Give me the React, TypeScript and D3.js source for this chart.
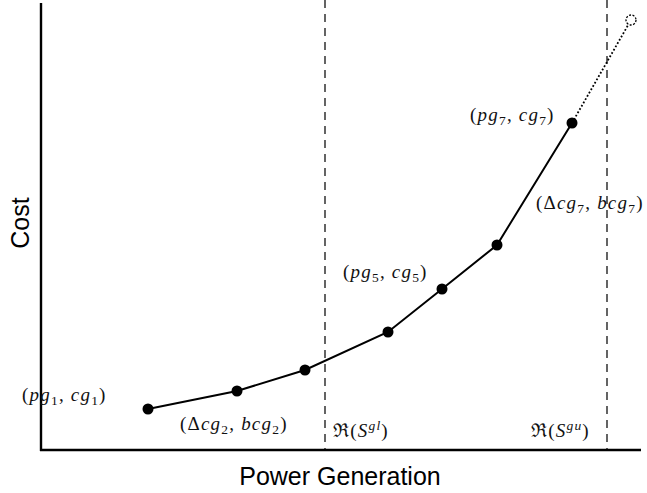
import React from 'react';
import * as d3 from 'd3';

// piecewise linear cost curve (arbitrary units)
const power = [107, 196, 264, 347, 401, 456, 531];
const cost = [41, 59, 80, 118, 161, 205, 327];
const extPower = 590;
const extCost = 430;
const lowerBound = 284;
const upperBound = 566;

type Seg = { t: string; it?: boolean; sub?: boolean; sup?: boolean };

const W = 647, H = 493;
const x = d3.scaleLinear().domain([0, 600]).range([41, 641]);
const y = d3.scaleLinear().domain([0, 450]).range([450, 0]);

const MathText: React.FC<{ x: number; y: number; segs: Seg[] }> = ({ x, y, segs }) => (
  <text x={x} y={y} fontFamily="'Liberation Serif', 'DejaVu Serif', serif" fontSize={19} letterSpacing={1.2} fill="#111">
    {segs.map((s, i) => (
      <tspan
        key={i}
        fontStyle={s.it ? 'italic' : 'normal'}
        fontSize={s.sub || s.sup ? 13.5 : 19}
        baselineShift={s.sub ? '-4' : s.sup ? '7' : undefined}
      >
        {s.t}
      </tspan>
    ))}
  </text>
);

const pair = (a: string, b: string, k: string, delta = false): Seg[] => [
  { t: '(' },
  ...(delta ? [{ t: 'Δ' }] : []),
  { t: a, it: true },
  { t: k, sub: true },
  { t: ', ' },
  { t: b, it: true },
  { t: k, sub: true },
  { t: ')' },
];

const App: React.FC = () => {
  const pts: [number, number][] = power.map((p, i) => [x(p), y(cost[i])]);
  const line = d3.line<[number, number]>();
  const last = pts[pts.length - 1];

  return (
    <svg width={W} height={H} style={{ position: 'absolute', left: 0, top: 0, background: '#fff' }}>
      {/* bounds */}
      {[lowerBound, upperBound].map((b) => (
        <line key={b} x1={x(b)} x2={x(b)} y1={0} y2={y(0)} stroke="#111" strokeWidth={1.3} strokeDasharray="8 6" />
      ))}
      {/* axes */}
      <line x1={x(0)} x2={x(0)} y1={3} y2={y(0) + 1} stroke="#000" strokeWidth={2.4} />
      <line x1={x(0) - 1} x2={x(600)} y1={y(0)} y2={y(0)} stroke="#000" strokeWidth={2.4} />

      {/* extension */}
      <line x1={last[0]} y1={last[1]} x2={x(extPower)} y2={y(extCost)} stroke="#000" strokeWidth={1.8} strokeDasharray="1.8 2" />
      <circle cx={x(extPower)} cy={y(extCost)} r={5} fill="#fff" stroke="#000" strokeWidth={1.3} strokeDasharray="2 1.5" />

      <path d={line(pts) || ''} fill="none" stroke="#000" strokeWidth={2} />
      {pts.map((p, i) => (
        <circle key={i} cx={p[0]} cy={p[1]} r={5.5} fill="#000" />
      ))}

      {/* labels */}
      <MathText x={22} y={401} segs={pair('pg', 'cg', '1')} />
      <MathText x={180} y={430} segs={pair('cg', 'bcg', '2', true)} />
      <MathText x={343} y={278} segs={pair('pg', 'cg', '5')} />
      <MathText x={470} y={121} segs={pair('pg', 'cg', '7')} />
      <MathText x={536} y={209} segs={pair('cg', 'bcg', '7', true)} />
      <MathText x={333} y={437} segs={[{ t: 'ℜ(' }, { t: 'S', it: true }, { t: 'gl', it: true, sup: true }, { t: ')' }]} />
      <MathText x={531} y={437} segs={[{ t: 'ℜ(' }, { t: 'S', it: true }, { t: 'gu', it: true, sup: true }, { t: ')' }]} />

      <text x={340} y={485} textAnchor="middle" fontFamily="'Liberation Sans', Arial, sans-serif" fontSize={25}>Power Generation</text>
      <text transform="translate(29,223) rotate(-90)" textAnchor="middle" fontFamily="'Liberation Sans', Arial, sans-serif" fontSize={25}>Cost</text>
    </svg>
  );
};

export default App;
